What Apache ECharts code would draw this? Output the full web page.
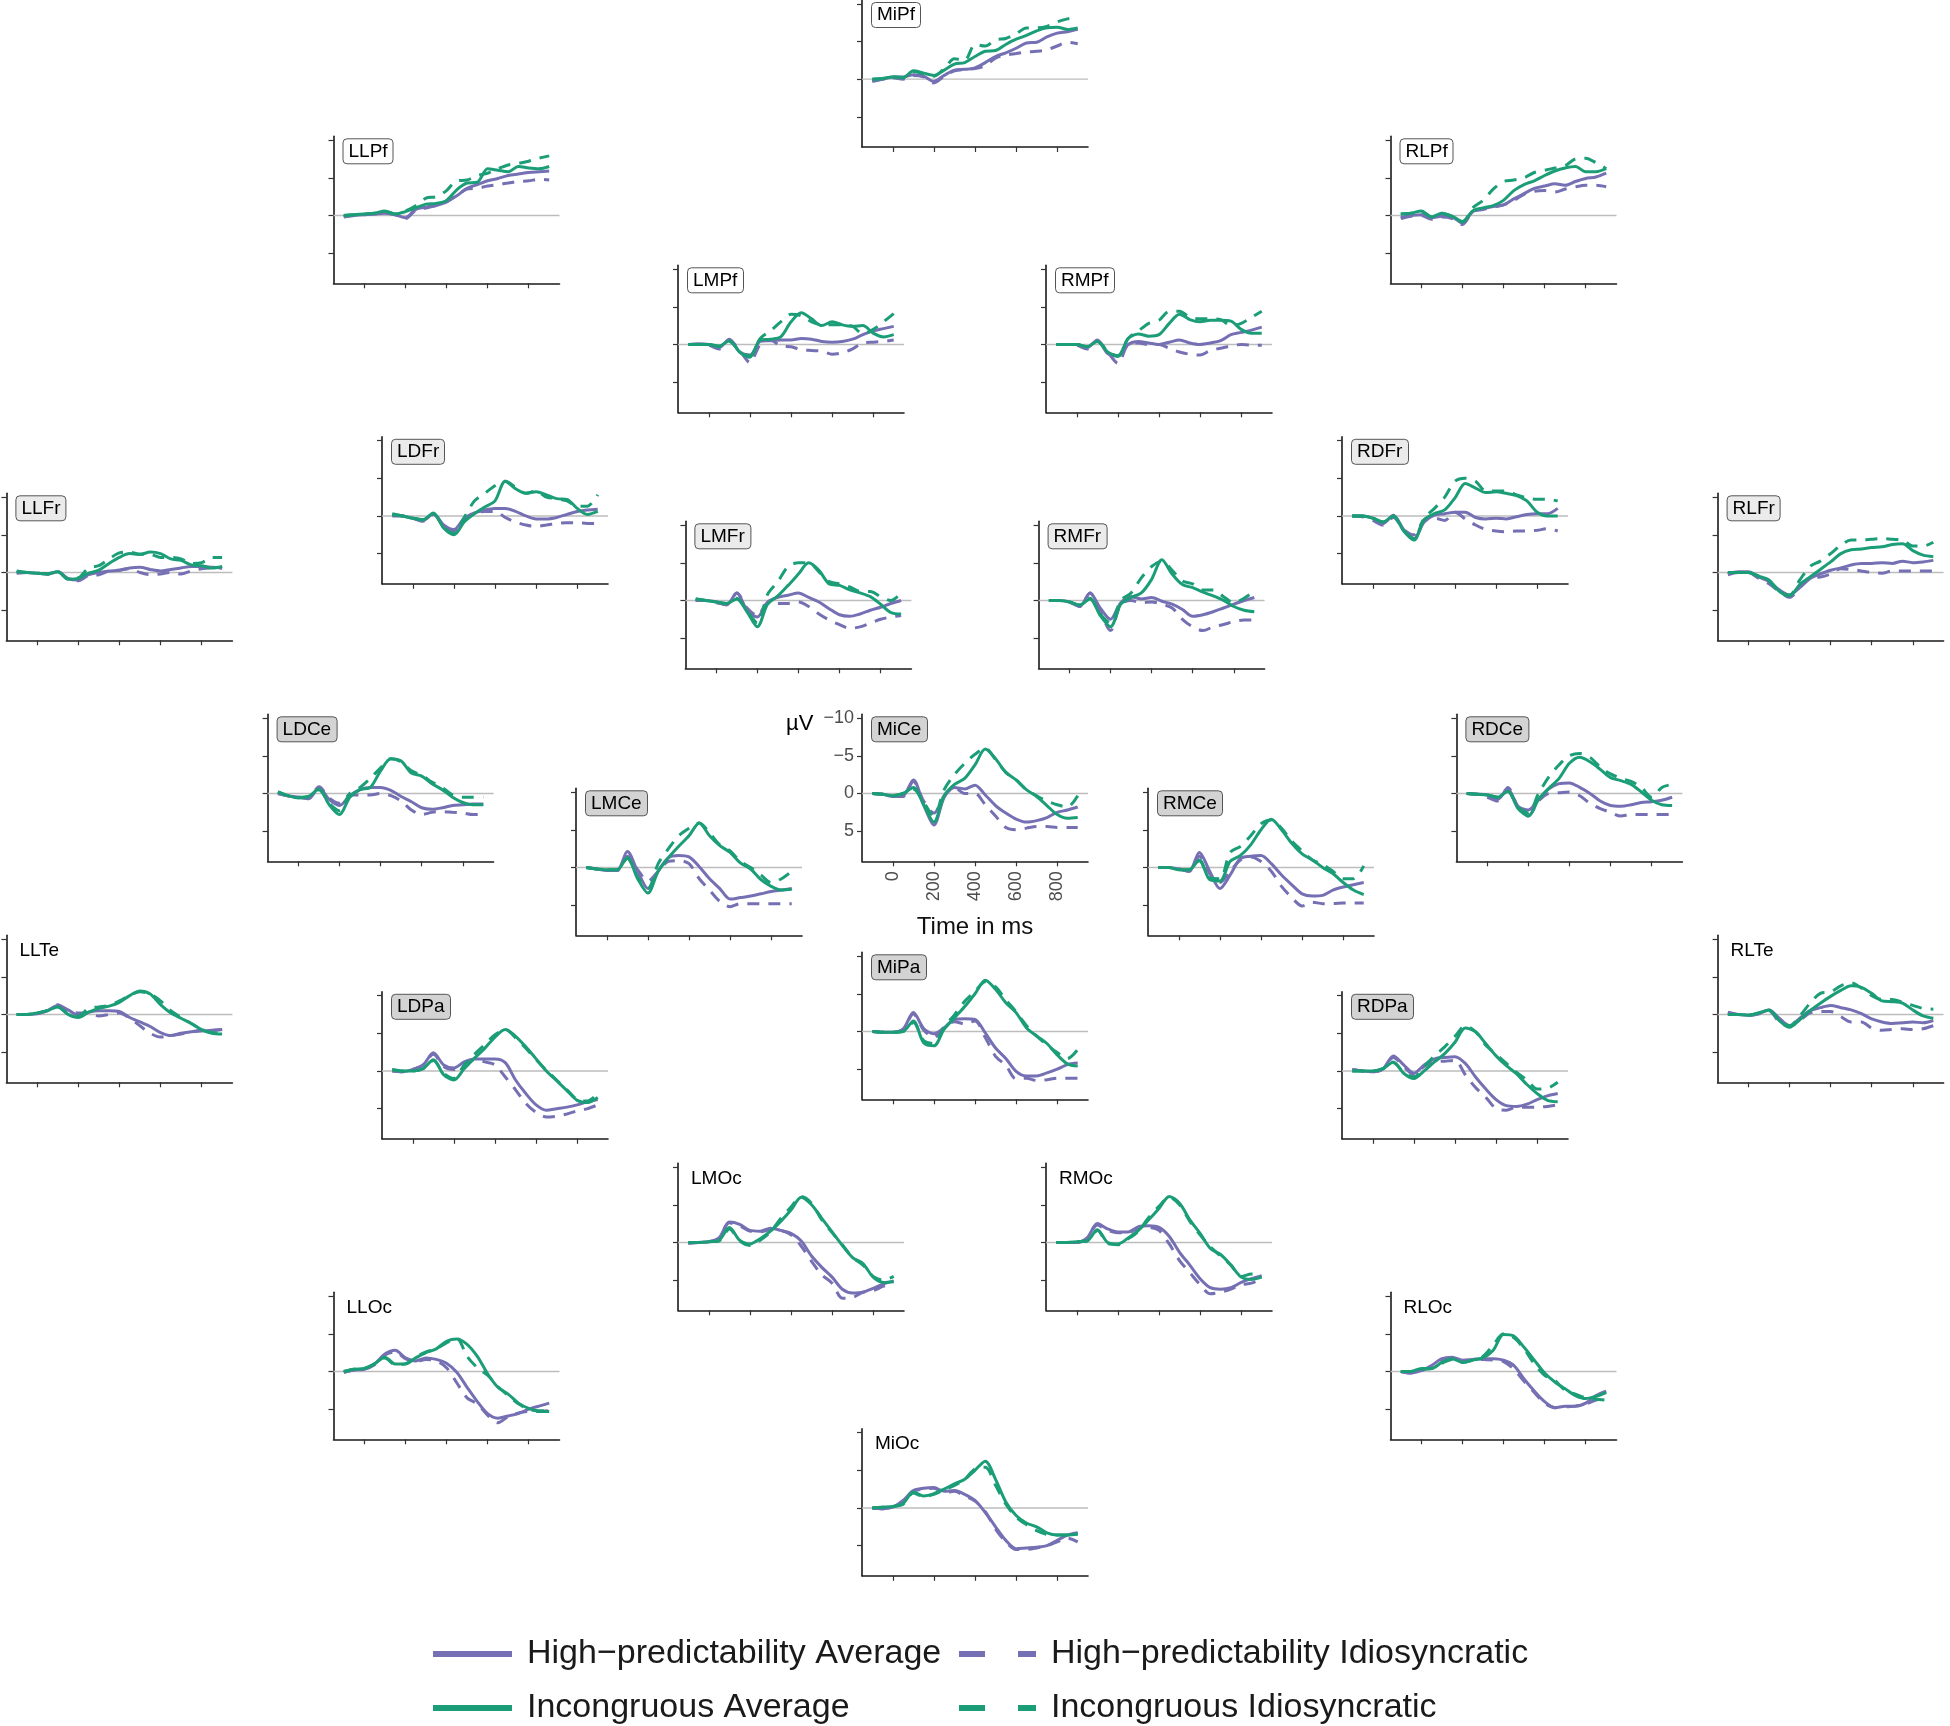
<!DOCTYPE html>
<html><head><meta charset="utf-8">
<script src="https://cdn.jsdelivr.net/npm/echarts@6/dist/echarts.min.js"></script>
<style>html,body{margin:0;padding:0;background:#fff}#c{width:1950px;height:1726px}</style>
</head><body><div id="c"></div>
<script>
// ---------- data ----------
const times = [-100,-50,0,50,100,150,200,250,300,350,400,450,500,550,600,650,700,750,800,850,900];
const xTicks = [0,200,400,600,800];
const yTicks = [-10,-5,0,5];
const seriesNames = ['High\u2212predictability Average','High\u2212predictability Idiosyncratic','Incongruous Average','Incongruous Idiosyncratic'];
const channels = ['MiPf','LLPf','RLPf','LMPf','RMPf','LDFr','RDFr','LLFr','RLFr','LMFr','RMFr','LDCe','MiCe','RDCe','LMCe','RMCe','LLTe','RLTe','MiPa','LDPa','RDPa','LMOc','RMOc','LLOc','RLOc','MiOc'];
// each channel: [HighPred Average, HighPred Idiosyncratic, Incongruous Average, Incongruous Idiosyncratic] in microvolts
const MiPf = [
 [0.2,0.0,-0.3,-0.3,-0.6,-0.4,0.3,-0.5,-1.2,-1.3,-1.5,-2.2,-3.0,-3.5,-4.1,-4.8,-4.9,-5.6,-6.1,-6.3,-6.6],
 [0.3,0.0,-0.2,0.0,-0.5,-0.3,0.5,-0.4,-1.1,-1.3,-1.4,-1.8,-2.8,-3.2,-3.4,-3.6,-3.7,-3.9,-4.4,-4.9,-4.7],
 [0.0,-0.1,-0.3,-0.2,-1.1,-0.8,-0.5,-1.2,-2.0,-2.2,-3.0,-3.7,-3.8,-4.6,-5.3,-5.8,-6.4,-6.8,-6.9,-6.6,-6.8],
 [0.0,-0.1,-0.3,-0.2,-1.0,-0.7,-0.4,-1.4,-2.7,-2.5,-4.6,-4.4,-5.2,-5.4,-6.0,-6.8,-6.8,-7.0,-7.6,-8.0,-8.2]];
const LLPf = [
 [0.1,0.0,-0.1,-0.2,-0.3,-0.1,0.3,-0.8,-1.1,-1.3,-1.8,-2.6,-3.6,-4.1,-4.6,-4.9,-5.3,-5.5,-5.7,-5.8,-5.9],
 [0.2,0.0,-0.1,-0.2,-0.3,-0.1,0.4,-0.7,-1.0,-1.3,-1.8,-2.7,-3.5,-3.6,-3.9,-4.1,-4.3,-4.5,-4.6,-4.8,-4.7],
 [0.0,-0.1,-0.2,-0.3,-0.6,-0.2,-0.5,-1.0,-1.5,-1.6,-2.0,-3.4,-4.3,-4.4,-6.2,-6.0,-5.8,-6.5,-6.3,-6.2,-6.5],
 [0.0,-0.1,-0.2,-0.3,-0.5,-0.2,-0.6,-1.3,-2.3,-2.5,-3.3,-4.6,-4.7,-5.3,-5.6,-6.2,-6.7,-6.9,-7.2,-7.6,-7.9]];
const RLPf = [
 [0.3,0.0,-0.1,0.3,0.1,0.2,1.0,-0.5,-0.9,-1.2,-1.4,-2.2,-2.9,-3.6,-3.9,-4.2,-4.0,-4.5,-4.9,-5.1,-5.6],
 [0.4,0.1,0.0,0.5,0.2,0.4,1.2,-0.5,-0.8,-1.1,-1.4,-2.0,-2.8,-3.2,-3.3,-3.1,-3.5,-3.8,-4.0,-4.0,-3.8],
 [-0.2,-0.3,-0.6,0.2,-0.3,0.1,0.8,-0.6,-1.0,-1.3,-2.0,-3.3,-4.1,-4.6,-5.3,-5.9,-6.3,-6.5,-5.8,-5.8,-6.2],
 [-0.2,-0.3,-0.5,0.2,-0.3,0.2,0.9,-1.0,-2.0,-3.5,-4.5,-4.7,-5.0,-5.7,-6.0,-6.3,-6.6,-7.5,-7.6,-7.0,-6.2]];
const LMPf = [
 [0.0,-0.1,0.0,0.4,-0.7,1.0,1.4,-0.4,-0.5,-0.6,-0.6,-0.8,-0.7,-0.4,-0.3,-0.4,-0.7,-1.3,-1.8,-2.1,-2.4],
 [0.0,0.0,0.1,0.6,-0.6,0.8,2.4,0.0,-0.6,0.2,0.3,0.7,0.8,0.9,1.3,1.1,0.6,-0.2,-0.3,-0.4,-0.6],
 [0.0,0.0,0.0,0.2,-0.5,1.0,1.7,-0.6,-0.7,-1.0,-3.0,-4.2,-3.4,-2.5,-3.0,-2.6,-2.4,-2.5,-1.5,-1.0,-1.3],
 [0.0,0.0,0.0,0.3,-0.4,0.9,1.5,-0.8,-1.8,-3.0,-4.0,-3.8,-3.0,-2.6,-2.6,-2.6,-2.4,-1.4,-2.0,-3.0,-4.1]];
const RMPf = [
 [0.0,0.0,0.0,0.4,-0.6,1.2,1.5,0.0,-0.4,-0.2,0.0,-0.3,-0.6,-0.2,0.0,-0.2,-0.5,-1.3,-1.6,-1.9,-2.3],
 [0.0,0.0,0.1,0.6,-0.5,1.0,2.5,0.0,-0.2,0.0,0.0,0.5,1.0,1.3,1.4,0.8,0.5,0.2,0.0,0.1,0.1],
 [0.0,0.0,0.0,0.3,-0.4,1.0,1.5,-0.8,-1.4,-1.1,-1.3,-2.8,-4.0,-3.3,-3.0,-3.2,-3.2,-3.1,-2.0,-1.5,-1.5],
 [0.0,0.0,0.0,0.3,-0.4,0.9,1.6,-0.8,-1.8,-2.8,-3.2,-4.4,-4.4,-3.6,-3.4,-3.4,-3.3,-2.5,-2.8,-3.6,-4.4]];
const LDFr = [
 [-0.1,0.0,0.3,0.6,-0.3,1.2,1.8,0.3,-0.4,-0.8,-1.0,-1.0,-0.6,0.0,0.4,0.4,0.2,-0.2,-0.6,-0.8,-0.9],
 [0.0,0.0,0.3,0.7,-0.2,1.3,2.0,0.5,-0.3,-0.6,-0.6,0.2,0.8,1.2,1.4,1.2,1.0,0.9,0.9,1.0,1.0],
 [-0.3,0.0,0.3,0.5,-0.4,1.6,2.5,0.8,-0.3,-1.2,-2.0,-4.6,-3.6,-3.0,-3.2,-2.8,-2.3,-2.2,-1.0,-0.2,-0.6],
 [-0.2,0.0,0.3,0.5,-0.3,1.5,2.3,0.2,-2.0,-3.0,-4.0,-4.6,-3.8,-3.0,-3.3,-2.5,-2.3,-2.0,-1.3,-1.3,-2.8]];
const RDFr = [
 [0.0,0.0,0.3,1.0,-0.1,1.8,3.0,0.8,-0.1,-0.3,-0.5,-0.5,0.2,0.4,0.3,0.4,0.1,-0.2,-0.3,-0.3,-1.0],
 [0.0,0.1,0.6,1.2,0.2,1.8,2.5,0.5,0.3,0.6,-0.5,0.4,1.2,1.8,2.0,2.1,2.0,2.0,1.9,1.7,2.0],
 [0.0,0.0,0.3,0.8,0.0,2.0,3.2,0.5,-0.3,-0.8,-2.4,-4.3,-3.7,-3.1,-3.2,-3.0,-2.7,-2.0,-0.5,0.0,0.0],
 [0.0,0.0,0.3,0.8,0.0,1.9,3.0,0.3,-1.0,-2.5,-4.6,-5.0,-4.6,-3.3,-3.3,-3.3,-2.8,-2.4,-2.2,-2.2,-2.0]];
const LLFr = [
 [0.0,0.0,0.1,0.2,-0.1,0.8,1.0,0.3,0.0,-0.2,-0.3,-0.6,-0.7,-0.4,-0.2,-0.4,-0.6,-0.8,-0.8,-0.7,-0.6],
 [0.1,0.0,0.1,0.2,-0.1,0.9,1.1,0.4,0.3,-0.2,-0.3,-0.5,0.0,0.3,0.2,0.0,0.2,-0.2,-0.5,-0.6,-0.6],
 [-0.2,0.0,0.1,0.2,-0.1,0.9,0.8,0.1,-0.3,-1.2,-2.0,-2.5,-2.4,-2.7,-2.5,-1.8,-1.6,-1.0,-0.9,-0.6,-0.8],
 [-0.1,0.0,0.1,0.2,-0.1,0.8,0.7,-0.6,-0.9,-1.8,-2.6,-2.7,-2.4,-2.4,-2.0,-2.0,-1.8,-1.2,-1.3,-2.0,-2.0]];
const RLFr = [
 [0.2,-0.1,-0.1,0.6,1.2,2.3,3.0,2.0,0.8,0.2,-0.3,-0.6,-1.0,-1.2,-1.2,-1.3,-1.2,-1.5,-1.3,-1.4,-1.6],
 [0.3,0.0,0.0,0.8,1.5,2.5,3.3,2.0,0.7,0.6,0.2,-0.5,-0.4,-0.2,0.0,0.1,-0.2,-0.2,-0.2,-0.2,-0.2],
 [0.0,0.0,0.0,0.5,1.0,2.5,3.1,1.6,0.6,-0.4,-1.4,-2.5,-3.0,-3.1,-3.3,-3.4,-3.7,-3.8,-2.9,-2.3,-2.1],
 [0.0,0.0,0.0,0.5,1.1,2.6,3.0,1.0,-0.8,-1.5,-2.5,-3.6,-4.3,-4.3,-4.4,-4.5,-4.4,-4.3,-3.5,-3.5,-4.0]];
const LMFr = [
 [0.0,0.0,0.2,0.6,-1.0,1.3,2.2,0.2,-0.4,-0.7,-1.0,-0.4,0.2,1.1,1.9,2.1,1.8,1.3,0.9,0.4,0.0],
 [0.0,0.0,0.3,0.5,-1.0,1.0,2.0,0.4,0.4,0.4,0.2,0.8,1.8,2.6,3.2,3.7,3.5,3.0,2.5,2.2,2.0],
 [-0.2,0.0,0.2,0.4,-0.2,1.5,3.5,0.5,-0.6,-2.0,-3.5,-5.0,-4.0,-2.2,-2.0,-1.4,-1.0,-0.5,0.5,1.6,1.8],
 [-0.2,0.0,0.2,0.4,-0.3,1.4,3.0,-0.8,-2.5,-4.5,-5.0,-5.0,-3.8,-2.5,-2.2,-1.8,-1.2,-1.2,-0.5,0.0,-1.0]];
const RMFr = [
 [0.0,0.0,0.2,0.8,-1.0,1.0,2.5,0.3,-0.5,-0.2,-0.4,0.1,0.5,1.2,2.1,1.9,1.5,1.0,0.5,0.0,-0.4],
 [0.0,0.0,0.2,0.8,-1.0,1.5,4.0,0.5,0.0,0.3,0.2,0.5,1.0,2.5,3.5,4.0,3.5,3.2,2.8,2.6,2.6],
 [0.0,0.0,0.2,0.6,-0.2,2.0,3.5,0.5,-0.4,-1.0,-2.8,-5.4,-3.5,-2.1,-1.7,-1.1,-0.6,0.0,0.8,1.3,1.5],
 [0.0,0.0,0.2,0.6,-0.3,1.8,3.0,0.0,-1.0,-3.0,-4.5,-5.2,-4.0,-2.6,-2.2,-1.4,-1.4,-0.5,0.3,-0.3,-1.2]];
const LDCe = [
 [0.0,0.3,0.5,0.7,-0.8,0.8,1.6,0.3,-0.5,-0.8,-0.8,-0.4,0.4,1.1,1.9,2.1,1.9,1.6,1.5,1.4,1.4],
 [0.0,0.3,0.5,0.6,-0.9,0.6,1.3,0.2,0.2,0.2,0.0,0.3,1.0,2.2,2.8,2.5,2.4,2.5,2.6,2.8,2.8],
 [-0.2,0.3,0.6,0.4,-0.6,1.5,2.8,0.5,-0.5,-0.8,-3.0,-4.6,-4.3,-2.7,-2.3,-1.3,-0.5,0.5,1.2,1.5,1.5],
 [-0.2,0.3,0.5,0.4,-0.5,1.3,2.3,0.0,-0.8,-2.0,-3.4,-4.6,-4.2,-3.0,-2.4,-1.5,-0.8,0.2,0.5,0.5,0.5]];
const MiCe = [
 [0.0,0.1,0.4,0.3,-1.8,1.5,4.2,0.5,-0.8,-0.6,-1.1,0.2,1.6,2.6,3.4,3.8,3.6,3.2,2.5,2.2,1.8],
 [0.0,0.1,0.4,0.4,-1.6,1.0,2.6,0.3,-0.8,0.0,0.0,1.5,3.0,4.5,4.8,4.6,4.4,4.4,4.5,4.5,4.5],
 [0.0,0.1,0.3,0.0,-0.8,1.5,3.8,0.3,-1.2,-2.0,-3.8,-5.9,-4.6,-2.8,-1.8,-0.5,0.4,1.6,2.8,3.3,3.2],
 [0.0,0.1,0.3,0.0,-0.6,1.2,3.0,-0.5,-2.5,-4.0,-5.2,-6.0,-4.5,-2.8,-1.8,-0.5,0.3,1.0,1.5,1.8,0.3]];
const RDCe = [
 [0.0,0.1,0.2,0.8,-0.6,1.7,2.2,0.8,-0.6,-1.3,-1.4,-0.8,0.0,1.0,1.6,1.7,1.5,1.2,1.1,0.9,0.5],
 [0.0,0.1,0.5,1.0,-0.8,1.8,3.0,1.0,0.0,-0.1,-0.2,0.3,1.3,2.0,2.5,3.0,2.8,2.8,2.8,2.8,2.8],
 [0.0,0.1,0.2,0.5,-0.3,2.0,3.0,0.8,-0.7,-2.0,-4.0,-4.8,-4.2,-3.2,-2.1,-1.7,-1.2,-0.2,0.9,1.5,1.6],
 [0.0,0.1,0.2,0.5,-0.3,1.8,2.6,0.0,-2.2,-3.8,-5.0,-5.3,-4.8,-3.5,-2.6,-2.0,-1.6,-0.8,0.5,-0.8,-1.2]];
const LMCe = [
 [0.0,0.2,0.4,0.4,-2.1,0.5,2.8,0.5,-1.3,-1.6,-1.4,-0.1,1.5,2.8,4.2,4.0,3.8,3.5,3.2,3.0,2.8],
 [0.0,0.2,0.4,0.4,-1.5,0.3,1.8,0.5,-0.8,-0.9,-0.5,1.5,3.0,4.5,5.2,4.8,4.8,4.8,4.8,4.8,4.8],
 [0.0,0.2,0.3,0.3,-1.3,1.5,3.4,0.5,-1.3,-2.8,-4.2,-5.9,-4.2,-2.9,-2.0,-0.6,0.2,1.6,2.5,3.0,2.9],
 [0.0,0.2,0.3,0.3,-1.2,1.3,2.8,-0.5,-2.5,-4.2,-5.2,-5.9,-4.6,-3.0,-2.2,-0.8,0.0,1.0,2.0,1.5,0.5]];
const RMCe = [
 [0.0,0.0,0.2,0.5,-2.0,0.5,2.8,1.0,-1.2,-1.5,-1.6,-0.5,1.0,2.3,3.5,3.8,3.7,3.0,2.6,2.3,2.0],
 [0.0,0.0,0.2,0.5,-1.5,0.8,2.0,0.5,-1.0,-1.4,-0.8,0.5,2.5,4.0,5.1,4.6,4.8,4.8,4.7,4.7,4.7],
 [0.0,0.0,0.3,0.3,-1.0,1.6,1.8,-0.8,-1.6,-3.0,-5.0,-6.4,-5.0,-3.2,-1.8,-1.0,0.0,0.8,2.0,3.0,3.6],
 [0.0,0.0,0.3,0.3,-0.9,1.4,1.5,-2.0,-2.8,-4.2,-5.8,-6.3,-5.2,-3.5,-2.2,-1.0,-0.4,0.5,1.5,1.5,-0.2]];
const LLTe = [
 [0.0,0.0,-0.1,-0.5,-1.2,-0.6,0.1,-0.3,-0.5,-0.5,-0.4,0.4,1.0,1.6,2.4,2.8,2.5,2.3,2.2,2.1,2.0],
 [0.0,0.0,-0.1,-0.5,-1.3,-0.5,-0.2,-0.2,0.2,0.0,-0.2,0.5,1.5,2.5,3.0,2.8,2.6,2.3,2.1,2.1,2.0],
 [0.0,0.0,-0.2,-0.5,-1.0,0.0,0.4,-0.3,-0.8,-1.1,-1.6,-2.5,-3.1,-2.7,-1.3,-0.2,0.5,1.2,2.0,2.5,2.6],
 [0.0,0.0,-0.2,-0.5,-1.0,-0.1,0.2,-0.8,-1.0,-1.2,-1.8,-2.5,-3.0,-2.7,-1.8,-0.5,0.4,1.2,2.0,2.4,2.5]];
const RLTe = [
 [-0.3,0.0,0.1,-0.1,-0.6,0.5,1.5,0.5,-0.5,-0.9,-1.2,-0.9,-0.6,-0.1,0.6,1.0,1.2,1.1,1.0,1.1,0.8],
 [-0.2,0.0,0.1,-0.1,-0.5,1.0,1.6,0.8,-0.2,-0.4,-0.4,0.3,1.0,1.0,1.8,2.1,2.0,1.9,2.0,1.9,1.5],
 [0.0,0.0,0.1,-0.2,-0.6,0.8,1.7,0.7,-0.5,-1.5,-2.4,-3.2,-3.8,-3.6,-2.8,-1.8,-1.7,-1.5,-0.6,0.2,0.5],
 [0.0,0.0,0.1,-0.2,-0.5,0.7,1.5,0.2,-1.5,-2.8,-3.0,-3.8,-4.2,-3.5,-2.5,-2.0,-2.0,-1.6,-1.2,-0.8,-0.7]];
const MiPa = [
 [0.0,0.1,0.1,-0.3,-2.5,-0.4,0.3,-0.5,-1.6,-1.7,-1.6,0.2,2.2,3.6,5.3,5.9,5.9,5.5,5.0,4.4,4.2],
 [0.0,0.1,0.1,-0.3,-2.3,-0.2,0.8,-0.6,-1.3,-1.0,-1.4,0.8,3.3,4.5,6.3,6.2,6.5,6.4,6.2,6.2,6.2],
 [0.0,0.1,0.1,0.0,-1.4,1.5,1.9,-0.3,-1.8,-3.3,-5.0,-6.8,-5.6,-3.8,-2.5,-0.5,0.6,1.6,3.1,4.3,4.6],
 [0.0,0.1,0.1,0.0,-1.2,1.2,1.6,-0.6,-2.2,-4.0,-5.3,-6.6,-5.9,-4.2,-2.6,-0.8,0.6,1.8,2.8,3.6,2.4]];
const LDPa = [
 [0.0,0.1,-0.2,-0.8,-2.4,-0.8,-0.4,-1.2,-1.6,-1.6,-1.6,-1.1,1.2,3.0,4.5,5.2,5.0,4.8,4.5,4.1,3.8],
 [0.0,0.1,-0.2,-0.8,-2.2,-0.6,-0.2,-1.0,-1.5,-1.2,-0.8,0.8,2.5,4.3,5.5,6.1,6.0,5.7,5.3,5.0,4.5],
 [-0.2,0.0,0.0,-0.3,-1.5,0.5,1.2,-0.3,-1.7,-3.0,-4.5,-5.5,-4.6,-3.2,-1.6,0.0,1.3,2.6,3.9,4.2,3.5],
 [-0.2,0.0,0.0,-0.3,-1.4,0.3,1.0,-0.8,-2.2,-3.5,-4.8,-5.5,-4.4,-3.0,-1.5,-0.1,1.2,2.5,3.8,4.0,3.0]];
const RDPa = [
 [-0.2,0.0,0.1,-0.3,-2.0,-0.8,0.3,-0.8,-1.6,-1.8,-1.9,-1.0,0.8,2.4,3.8,4.6,4.7,4.4,3.8,3.3,3.0],
 [-0.2,0.0,0.1,-0.3,-1.8,-0.6,0.5,-0.6,-1.2,-1.3,-1.4,0.5,2.2,3.5,5.0,5.2,4.8,4.8,4.8,4.7,4.5],
 [0.0,0.0,0.0,-0.3,-1.2,0.3,1.0,0.0,-1.2,-2.3,-3.8,-5.7,-5.2,-3.6,-2.0,-0.7,0.4,1.8,3.0,3.9,4.1],
 [0.0,0.0,0.0,-0.3,-1.1,0.2,0.8,-0.6,-2.0,-3.2,-4.6,-6.0,-5.2,-3.4,-2.2,-1.0,0.2,1.2,2.4,2.3,1.5]];
const LMOc = [
 [0.1,0.0,-0.1,-0.6,-2.7,-2.4,-1.6,-1.5,-1.9,-1.6,-1.2,-0.2,1.8,3.3,4.6,6.2,6.7,6.6,6.1,5.5,5.1],
 [0.1,0.0,-0.1,-0.5,-2.6,-2.2,-1.5,-1.4,-1.7,-1.6,-1.0,0.5,2.5,4.3,5.4,7.4,7.3,6.6,6.4,5.8,5.5],
 [0.0,0.0,-0.1,-0.3,-2.0,-0.3,0.2,-0.5,-1.5,-2.8,-4.3,-6.0,-5.0,-3.2,-1.4,0.4,2.0,2.8,4.6,5.3,5.2],
 [0.0,0.0,-0.1,-0.2,-1.8,-0.2,0.4,-0.3,-1.4,-3.2,-4.7,-6.1,-5.2,-3.0,-1.3,0.3,2.0,3.0,4.5,5.0,4.5]];
const RMOc = [
 [0.0,0.0,0.0,-0.6,-2.5,-1.8,-1.4,-1.4,-2.1,-2.2,-2.0,-0.8,1.3,3.0,4.8,6.0,6.2,6.0,5.3,4.8,4.4],
 [0.0,0.0,0.0,-0.5,-2.3,-1.6,-1.3,-1.3,-1.9,-2.0,-1.6,0.2,2.4,4.0,5.6,6.8,6.6,6.2,5.6,5.4,4.8],
 [0.0,0.0,-0.1,-0.2,-1.7,0.0,0.2,-0.6,-1.6,-3.0,-4.5,-6.1,-5.2,-3.0,-1.2,0.8,1.6,3.0,4.6,4.9,4.6],
 [0.0,0.0,-0.1,-0.2,-1.6,0.1,0.3,-0.5,-1.5,-3.3,-4.8,-6.0,-5.0,-2.8,-1.0,0.6,1.8,3.0,4.5,4.2,4.3]];
const LLOc = [
 [0.1,-0.2,-0.3,-1.0,-2.3,-2.8,-1.8,-1.4,-1.8,-1.6,-1.1,0.1,2.1,4.0,5.6,6.2,5.9,5.6,5.0,4.6,4.2],
 [0.1,-0.2,-0.3,-0.9,-2.2,-2.6,-1.7,-1.3,-1.6,-1.4,-0.5,1.5,3.5,4.3,5.8,6.8,6.0,5.5,5.3,5.3,5.2],
 [0.0,-0.3,-0.4,-1.0,-1.9,-1.0,-1.0,-1.8,-2.5,-3.0,-4.0,-4.3,-3.6,-2.0,0.3,2.1,3.0,4.2,4.9,5.3,5.3],
 [0.0,-0.3,-0.4,-1.0,-1.8,-0.9,-1.0,-1.9,-2.6,-3.0,-3.8,-4.4,-2.0,-0.5,0.5,2.0,3.2,4.3,5.0,5.2,5.2]];
const RLOc = [
 [0.0,0.2,-0.1,-0.8,-1.7,-1.9,-1.5,-1.6,-1.7,-1.7,-1.5,-0.8,1.0,2.6,4.0,4.8,4.6,4.6,4.2,3.2,2.6],
 [0.0,0.2,-0.1,-0.7,-1.6,-1.8,-1.4,-1.5,-1.6,-1.5,-1.3,-0.3,1.3,2.8,4.2,4.8,4.7,4.6,4.3,3.8,3.5],
 [0.0,0.0,-0.4,-0.4,-1.2,-1.7,-1.2,-1.5,-1.8,-2.8,-4.9,-4.7,-3.2,-1.5,0.2,1.4,2.3,3.2,3.6,3.3,2.8],
 [0.0,0.0,-0.3,-0.4,-1.1,-1.6,-1.2,-1.5,-2.0,-3.5,-5.0,-4.5,-3.0,-1.0,0.5,1.2,2.5,3.0,3.5,3.7,3.8]];
const MiOc = [
 [0.0,0.1,-0.1,-1.0,-2.3,-2.6,-2.7,-2.2,-2.3,-1.8,-1.0,0.6,2.5,4.3,5.4,5.3,5.2,5.0,4.3,3.6,3.3],
 [0.0,0.1,-0.1,-0.9,-2.2,-2.5,-2.6,-2.0,-2.2,-1.6,-0.9,0.5,2.8,4.5,5.5,5.5,5.3,5.0,4.5,4.0,4.5],
 [0.0,-0.1,-0.2,-0.6,-2.1,-1.6,-1.9,-2.5,-3.2,-3.8,-5.0,-6.2,-3.8,-0.8,1.0,2.0,2.5,3.3,3.6,3.6,3.5],
 [0.0,-0.1,-0.2,-0.5,-2.0,-1.5,-1.8,-2.4,-3.0,-3.8,-5.2,-5.4,-3.0,-0.5,1.2,2.2,3.0,3.5,3.6,3.6,3.4]];
const channelData = {MiPf,LLPf,RLPf,LMPf,RMPf,LDFr,RDFr,LLFr,RLFr,LMFr,RMFr,LDCe,MiCe,RDCe,LMCe,RMCe,LLTe,RLTe,MiPa,LDPa,RDPa,LMOc,RMOc,LLOc,RLOc,MiOc};

// ---------- layout & style ----------
const FONT = 'Liberation Sans, Arial, Helvetica, sans-serif';
const PW = 226, PH = 147;
const X_MIN = -150, X_MAX = 950, Y_MIN = -10.5, Y_MAX = 9.0;
const panelPos = {
  MiPf:[862,0], LLPf:[333.5,136.3], RLPf:[1390.5,136.3], LMPf:[678,265.3], RMPf:[1046,265.3],
  LDFr:[382,436.8], RDFr:[1342,436.8], LLFr:[6.4,493.3], RLFr:[1717.6,493.3], LMFr:[685.4,521.3], RMFr:[1038.6,521.3],
  LDCe:[267.6,714.3], MiCe:[862,714.3], RDCe:[1456.4,714.3], LMCe:[576,788.3], RMCe:[1148,788.3],
  LLTe:[6.4,935.3], RLTe:[1717.6,935.3], MiPa:[862,952.3], LDPa:[382,991.8], RDPa:[1342,991.8],
  LMOc:[678,1163.3], RMOc:[1046,1163.3], LLOc:[333.5,1292.3], RLOc:[1390.5,1292.3], MiOc:[862,1428.8]
};
const labelFill = {Pf:'#ffffff', Fr:'#ebebeb', Ce:'#d3d3d3', Pa:'#d3d3d3', Te:null, Oc:null};
const PURPLE = '#7570B3', GREEN = '#1B9E77';
const seriesColor = [PURPLE, PURPLE, GREEN, GREEN];
const seriesDash = ['solid', [12,9], 'solid', [12,9]];
const legendDash = ['solid', [26,33], 'solid', [26,33]];
const legendPos = [[430,1637],[956,1637],[430,1691],[956,1691]];

const grids = [], xAxes = [], yAxes = [], series = [], titles = [];
channels.forEach((ch, i) => {
  const [left, top] = panelPos[ch];
  const main = ch === 'MiCe';
  grids.push({left: left, top: top, width: PW, height: PH});
  xAxes.push({
    gridIndex: i, type: 'value', min: X_MIN, max: X_MAX, position: 'bottom',
    axisLine: {show: true, onZero: false, lineStyle: {color: '#1a1a1a', width: 1.6}},
    axisTick: {show: true, customValues: xTicks, length: 5, lineStyle: {color: '#333', width: 1.2}},
    axisLabel: {show: main, customValues: xTicks, rotate: 90, margin: 10, color: '#4d4d4d', fontSize: 18, fontFamily: FONT},
    splitLine: {show: false},
    name: main ? 'Time in ms' : '', nameLocation: 'middle', nameGap: 54,
    nameTextStyle: {fontSize: 24, color: '#111', fontFamily: FONT}
  });
  yAxes.push({
    gridIndex: i, type: 'value', min: Y_MIN, max: Y_MAX, inverse: true,
    axisLine: {show: true, onZero: false, lineStyle: {color: '#1a1a1a', width: 1.6}},
    axisTick: {show: true, customValues: yTicks, length: 5, lineStyle: {color: '#333', width: 1.2}},
    axisLabel: {show: main, customValues: yTicks, margin: 8, color: '#4d4d4d', fontSize: 18, fontFamily: FONT,
      formatter: v => String(v).replace('-', '\u2212')},
    splitLine: {show: false}
  });
  // zero reference line
  series.push({
    type: 'line', name: 'zero', xAxisIndex: i, yAxisIndex: i, z: 1, silent: true, symbol: 'none',
    data: [[X_MIN, 0], [X_MAX, 0]], lineStyle: {color: '#bdbdbd', width: 1.4}, animation: false
  });
  const d = channelData[ch];
  for (let k = 0; k < 4; k++) {
    series.push({
      type: 'line', name: seriesNames[k], xAxisIndex: i, yAxisIndex: i, z: 3 + k,
      symbol: 'none', smooth: 0.3, silent: true, animation: false,
      data: times.map((t, j) => [t, d[k][j]]),
      itemStyle: {color: seriesColor[k]},
      lineStyle: {color: seriesColor[k], width: 3, type: seriesDash[k]}
    });
  }
  const fill = labelFill[ch.slice(2)];
  const t = {
    text: ch, left: left + (fill ? 9 : 7), top: top + 2, padding: [3, 6, 3, 6],
    textStyle: {fontSize: 19, fontWeight: 'normal', color: '#000', lineHeight: 20, fontFamily: FONT}
  };
  if (fill) { t.backgroundColor = fill; t.borderColor = '#555'; t.borderWidth = 1; t.borderRadius = 4; }
  titles.push(t);
});
titles.push({text: '\u00b5V', left: 786, top: 713, padding: 0,
  textStyle: {fontSize: 22, fontWeight: 'normal', color: '#000', lineHeight: 22, fontFamily: FONT}});

const legends = seriesNames.map((nm, k) => ({
  orient: 'horizontal', left: legendPos[k][0], top: legendPos[k][1], padding: 0,
  itemWidth: k % 2 ? 77 : 79, itemHeight: 6, selectedMode: false,
  textStyle: {fontSize: 34, color: '#1a1a1a', fontFamily: FONT, lineHeight: 34, padding: [0, 0, 0, 10]},
  data: [{name: nm, itemStyle: {color: 'rgba(0,0,0,0)', borderWidth: 0},
          lineStyle: {width: 6, type: legendDash[k], color: seriesColor[k], cap: 'butt'}}]
}));

const chart = echarts.init(document.getElementById('c'), null, {renderer: 'canvas'});
chart.setOption({
  backgroundColor: '#ffffff',
  animation: false,
  title: titles,
  legend: legends,
  grid: grids,
  xAxis: xAxes,
  yAxis: yAxes,
  series: series
});
</script>
</body></html>
